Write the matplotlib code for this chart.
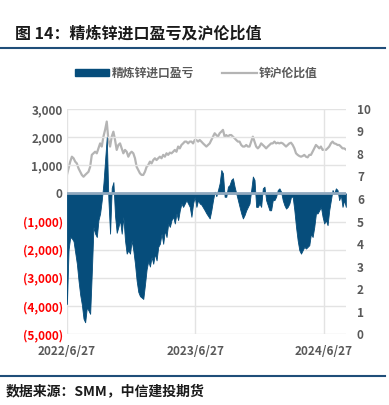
import numpy as np
import pandas as pd
import matplotlib
matplotlib.use('Agg')
import matplotlib.pyplot as plt
from matplotlib.patches import Patch
from matplotlib.lines import Line2D

plt.rcParams['font.family'] = ['Noto Sans CJK SC', 'DejaVu Sans']

# 精炼锌进口盈亏 (元/吨), 2022/6/27 起等间隔读数
profit = [-3930, -2000, -1550, -1600, -1700, -2100, -2500, -3100, -3600, -3950,
          -4450, -4580, -4050, -4160, -4280, -2800, -1190, -1430, -1550, -950,
          -710, -240, 360, 1190, 2000, -240, -1430, 200, 400, -800,
          -1400, -1190, -950, -1430, -830, -1670, -2140, -2020, -2140, -1670,
          -2020, -2500, -3100, -3500, -3650, -3700, -3750, -3250, -2700, -2400,
          -2600, -2260, -2500, -2140, -2380, -1900, -1790, -1430, -1790, -1310,
          -1550, -1070, -1190, -950, -830, -1070, -710, -950, -600, -360,
          -480, -360, -240, -360, -480, -830, -360, -120, -480, -240,
          -360, -400, -500, -600, -710, -800, -890, -600, -240, 60,
          -100, 120, 360, 830, 710, -120, -120, 240, 300, 480,
          540, 240, 0, -240, -480, -710, -890, -770, -600, -480,
          -360, 120, 600, 480, -480, -480, -360, -480, 180, 240,
          -240, -420, -600, -600, -240, -240, -120, 120, 180, 60,
          -240, -420, -540, -480, -360, -120, -120, -600, -1190, -1670,
          -2020, -2140, -2020, -1900, -1960, -1900, -1840, -1430, -1550, -1190,
          -710, -710, -600, -480, -830, -1070, -950, -1130, -600, -240,
          120, 0, 180, 120, -240, -60, -480, -240, -480]

# 锌沪伦比值
ratio = [7.07, 7.36, 7.66, 7.88, 7.81, 7.66, 7.58, 7.36, 7.21, 7.07,
         6.99, 7.07, 7.14, 7.21, 7.43, 7.96, 8.03, 8.10, 8.03, 8.25,
         8.47, 8.33, 8.77, 9.07, 9.44, 8.62, 8.33, 8.77, 8.99, 8.62,
         8.18, 8.40, 8.47, 8.25, 8.03, 8.18, 8.10, 7.88, 8.03, 8.10,
         8.03, 7.81, 7.43, 7.29, 7.14, 7.07, 7.07, 7.21, 7.43, 7.51,
         7.66, 7.58, 7.73, 7.81, 7.73, 7.81, 7.88, 7.81, 7.96, 7.88,
         8.03, 7.96, 8.06, 8.03, 8.10, 8.18, 8.10, 8.33, 8.25, 8.40,
         8.47, 8.55, 8.55, 8.47, 8.55, 8.55, 8.47, 8.62, 8.62, 8.55,
         8.62, 8.55, 8.47, 8.40, 8.33, 8.40, 8.47, 8.62, 8.77, 8.92,
         8.84, 8.77, 8.92, 8.99, 9.07, 8.77, 8.84, 8.77, 8.84, 8.84,
         8.77, 8.70, 8.62, 8.55, 8.55, 8.40, 8.33, 8.33, 8.40, 8.33,
         8.33, 8.55, 8.77, 8.55, 8.33, 8.25, 8.33, 8.47, 8.40, 8.33,
         8.25, 8.33, 8.40, 8.47, 8.47, 8.55, 8.47, 8.50, 8.47, 8.50,
         8.47, 8.40, 8.33, 8.40, 8.47, 8.50, 8.40, 8.25, 8.03, 7.96,
         7.91, 7.88, 7.91, 7.96, 7.88, 7.85, 7.96, 7.96, 8.10, 8.25,
         8.40, 8.33, 8.25, 8.33, 8.18, 8.20, 8.18, 8.25, 8.33, 8.47,
         8.55, 8.47, 8.45, 8.40, 8.40, 8.33, 8.25, 8.25, 8.20]

start, end = pd.Timestamp('2022-06-27'), pd.Timestamp('2024-08-29')
d_profit = pd.date_range(start, end, periods=len(profit))
d_ratio = pd.date_range(start, end, periods=len(ratio))

xticks = [pd.Timestamp('2022-06-27'), pd.Timestamp('2023-06-27'), pd.Timestamp('2024-06-27')]
xlabels = ['2022/6/27', '2023/6/27', '2024/6/27']
yticks = list(range(-5000, 3001, 1000))

blue = '#064d7b'
gray_line = '#b4b4b4'
txt = '#595959'

fig = plt.figure(figsize=(3.89, 4.05), dpi=100)
ax = fig.add_axes([0.172, 0.175, 0.717, 0.556])
ax2 = ax.twinx()
ax.set_zorder(ax2.get_zorder() + 1)
ax.patch.set_visible(False)

ax2.plot(d_ratio, ratio, color=gray_line, lw=1.6)
ax2.set_ylim(0, 10)
ax2.set_yticks(range(0, 11))

ax.fill_between(d_profit, 0, profit, color=blue, lw=0.6, edgecolor=blue)
ax.axhline(0, color='#90a9bf', lw=2, zorder=5)
ax.set_ylim(-5000, 3000)
ylabs = ['({:,})'.format(-v) if v < 0 else '{:,}'.format(v) for v in yticks]
ax.set_yticks(yticks, labels=ylabs)
for lab, v in zip(ax.get_yticklabels(), yticks):
    lab.set_color('#ff0000' if v < 0 else txt)
ax.set_xlim(start, end)
ax.set_xticks(xticks, labels=xlabels)
ax.grid(True, color='#e3e3e3', lw=1)
ax.set_axisbelow(True)

for a in (ax, ax2):
    for s in a.spines.values():
        s.set_visible(False)
    a.tick_params(length=0, labelsize=8.5)
ax.tick_params(axis='y', pad=3)
ax.tick_params(axis='x', colors=txt, pad=8)
ax2.tick_params(axis='y', colors=txt, pad=8)
for lab in ax.get_yticklabels() + ax.get_xticklabels() + ax2.get_yticklabels():
    lab.set_fontweight('bold')

handles = [Patch(color=blue), Line2D([], [], color=gray_line, lw=1.6)]
fig.legend(handles, ['精炼锌进口盈亏', '锌沪伦比值'], loc='center', ncol=2,
           bbox_to_anchor=(0.505, 1 - 73 / 405), frameon=False,
           labelcolor=txt, handlelength=2.9, handleheight=0.6, columnspacing=2.4,
           handletextpad=0.2, prop={'weight': 'bold', 'size': 8.5})

fig.text(15 / 389, 1 - 33 / 405, '图 14：精炼锌进口盈亏及沪伦比值', fontsize=11.5,
         fontweight='bold', va='center', ha='left', color='#1a1a1a')
fig.add_artist(Line2D([0, 0.99], [1 - 48 / 405] * 2, color='#1f4e79', lw=1.5))
fig.add_artist(Line2D([0, 0.99], [1 - 376 / 405] * 2, color='#1f4e79', lw=1.5))
fig.text(6 / 389, 1 - 391 / 405, '数据来源：SMM，中信建投期货', fontsize=10,
         fontweight='bold', va='center', ha='left', color='#1a1a1a')

fig.savefig('out.png', dpi=100)
